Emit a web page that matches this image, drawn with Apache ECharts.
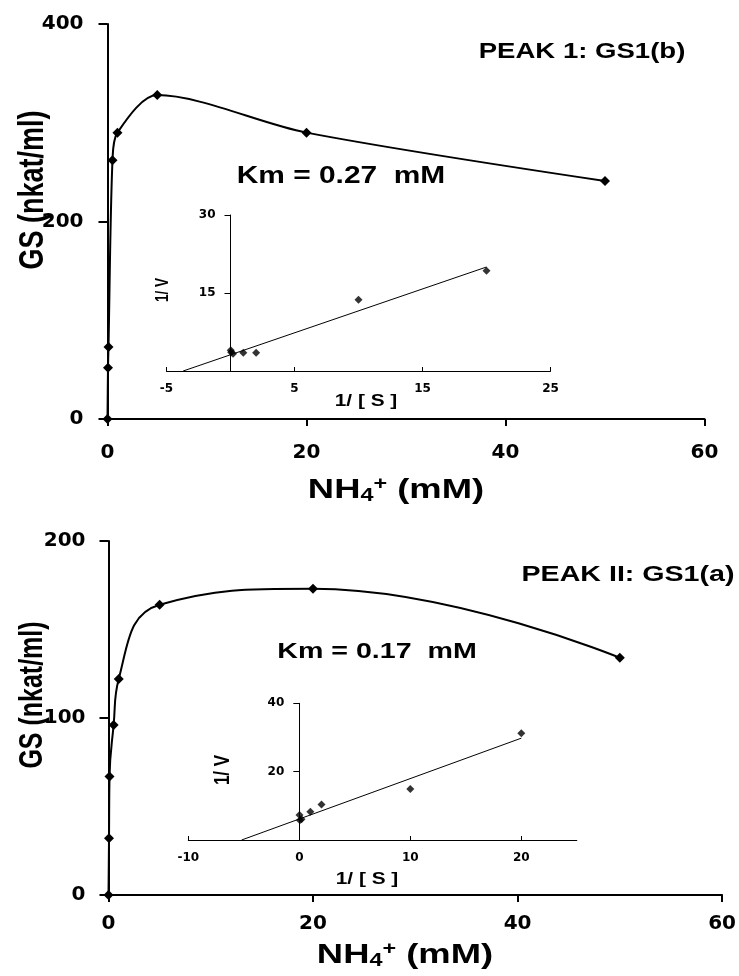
<!DOCTYPE html>
<html>
<head>
<meta charset="utf-8">
<script src="https://cdn.jsdelivr.net/npm/echarts@6/dist/echarts.min.js"></script>
<style>
  html, body { margin: 0; padding: 0; background: #fff; }
  #chart { width: 739px; height: 976px; }
</style>
</head>
<body>
<div id="chart"></div>
<script>
// NH4+ concentration (mM) for both peaks
var nh4 = [0, 0.05, 0.1, 0.5, 1, 5, 20, 50];
// GS activity (nkat/ml)
var peak1GS = [0, 52, 73, 262, 290, 328, 290, 241];
var peak2GS = [0, 32, 67, 96, 122, 164, 173, 134];

// Lineweaver-Burk insets
var invS = [20, 10, 2, 1, 0.2, 0.05, 0.02];
var peak1InvV = [19.3, 13.7, 3.5, 3.5, 3.3, 3.6, 4.0];
var peak2InvV = [31.2, 14.9, 10.4, 8.3, 6.1, 5.8, 7.3];
var fit1X = [-3.7, 20];
var fit1Y = [0, 20];
var fit2X = [-5.2, 20];
var fit2Y = [0, 29.8];

function pairs(xs, ys) {
  return xs.map(function (x, i) { return [x, ys[i]]; });
}

var chart = echarts.init(document.getElementById("chart"));

var tickFont = { fontFamily: "DejaVu Sans", fontWeight: "bold", color: "#000" };
var arial = "Liberation Sans";

function mainX(grid, margin) {
  return {
    type: "value", gridIndex: grid, min: 0, max: 60, interval: 20,
    axisLine: { lineStyle: { color: "#000", width: 2 } },
    axisTick: { length: 7, lineStyle: { color: "#000", width: 2 } },
    axisLabel: Object.assign({ fontSize: 20, margin: margin }, tickFont),
    splitLine: { show: false }
  };
}
function mainY(grid, max, interval, margin) {
  return {
    type: "value", gridIndex: grid, min: 0, max: max, interval: interval,
    axisLine: { lineStyle: { color: "#000", width: 2 } },
    axisTick: { length: 9, lineStyle: { color: "#000", width: 2 } },
    axisLabel: Object.assign({ fontSize: 20, margin: margin }, tickFont),
    splitLine: { show: false }
  };
}
function insetX(grid, min, max, hideMax) {
  return {
    type: "value", gridIndex: grid, min: min, max: max, interval: 10,
    axisLine: { onZero: false, lineStyle: { color: "#000", width: 1 } },
    axisTick: { inside: true, length: 4, lineStyle: { color: "#000" } },
    axisLabel: Object.assign({ fontSize: 12, margin: 12, showMaxLabel: !hideMax }, tickFont),
    splitLine: { show: false }
  };
}
// the inset y axis sits at 1/[S] = 0, pushed into the grid by a negative offset
function insetY(grid, max, interval, offset) {
  return {
    type: "value", gridIndex: grid, min: 0, max: max, interval: interval,
    offset: offset,
    axisLine: { onZero: false, lineStyle: { color: "#000", width: 1 } },
    axisTick: { length: 6, lineStyle: { color: "#000" } },
    axisLabel: Object.assign({ fontSize: 12, margin: 15, showMinLabel: false }, tickFont),
    splitLine: { show: false }
  };
}

function label(x, y, text, size, opts) {
  opts = opts || {};
  return {
    type: "text", x: x, y: y,
    rotation: opts.rotate ? Math.PI / 2 : 0,
    scaleX: opts.rotate ? 1 : 1.3,
    scaleY: opts.rotate ? 1.3 : 1,
    z: 100,
    style: {
      text: text,
      font: "bold " + size + "px " + arial,
      fill: "#000",
      align: "center",
      verticalAlign: "middle",
      rich: opts.rich
    }
  };
}

var nhRich = {
  a: { fontFamily: arial, fontWeight: "bold", fontSize: 28, lineHeight: 30, verticalAlign: "middle" },
  b: { fontFamily: arial, fontWeight: "bold", fontSize: 18, lineHeight: 14, verticalAlign: "bottom" },
  c: { fontFamily: arial, fontWeight: "bold", fontSize: 18, lineHeight: 14, verticalAlign: "top" }
};

chart.setOption({
  backgroundColor: "#fff",
  animation: false,
  grid: [
    { left: 107.5, top: 24, width: 597, height: 395 },
    { left: 108.5, top: 541, width: 615.5, height: 354 },
    { left: 166.5, top: 215, width: 384, height: 156 },
    { left: 188.3, top: 703.3, width: 388.5, height: 136.7 }
  ],
  xAxis: [
    mainX(0, 24),
    mainX(1, 19),
    insetX(2, -5, 25, false),
    insetX(3, -10, 25, true)
  ],
  yAxis: [
    mainY(0, 400, 200, 24),
    mainY(1, 200, 100, 23),
    insetY(2, 30, 15, -64),
    insetY(3, 40, 20, -111)
  ],
  series: [
    {
      name: "PEAK 1", type: "line", xAxisIndex: 0, yAxisIndex: 0,
      data: pairs(nh4, peak1GS), smooth: 0.3,
      symbol: "diamond", symbolSize: 10,
      lineStyle: { color: "#000", width: 2 }, itemStyle: { color: "#000" }
    },
    {
      name: "PEAK II", type: "line", xAxisIndex: 1, yAxisIndex: 1,
      data: pairs(nh4, peak2GS), smooth: 0.45,
      symbol: "diamond", symbolSize: 10,
      lineStyle: { color: "#000", width: 2 }, itemStyle: { color: "#000" }
    },
    {
      type: "line", xAxisIndex: 2, yAxisIndex: 2,
      data: pairs(fit1X, fit1Y), showSymbol: false,
      lineStyle: { color: "#000", width: 1 }
    },
    {
      type: "scatter", xAxisIndex: 2, yAxisIndex: 2,
      data: pairs(invS, peak1InvV), symbol: "diamond", symbolSize: 8,
      itemStyle: { color: "#000" }
    },
    {
      type: "line", xAxisIndex: 3, yAxisIndex: 3,
      data: pairs(fit2X, fit2Y), showSymbol: false,
      lineStyle: { color: "#000", width: 1 }
    },
    {
      type: "scatter", xAxisIndex: 3, yAxisIndex: 3,
      data: pairs(invS, peak2InvV), symbol: "diamond", symbolSize: 8,
      itemStyle: { color: "#000" }
    }
  ],
  graphic: [
    label(582, 52, "PEAK 1: GS1(b)", 21.2),
    label(628, 575, "PEAK II: GS1(a)", 22),
    label(341, 177, "Km = 0.27  mM", 23),
    label(377, 652, "Km = 0.17  mM", 22),
    label(33, 190, "GS (nkat/ml)", 27, { rotate: true }),
    label(33, 695, "GS (nkat/ml)", 25, { rotate: true }),
    label(163, 290, "1/ V", 13.5, { rotate: true }),
    label(223, 770, "1/ V", 17, { rotate: true }),
    label(366, 402, "1/ [ S ]", 16),
    label(367, 880, "1/ [ S ]", 16),
    label(396, 490, "{a|NH}{b|4}{c|+}{a| (mM)}", 28, { rich: nhRich }),
    label(405, 955, "{a|NH}{b|4}{c|+}{a| (mM)}", 28, { rich: nhRich })
  ]
});
</script>
</body>
</html>
